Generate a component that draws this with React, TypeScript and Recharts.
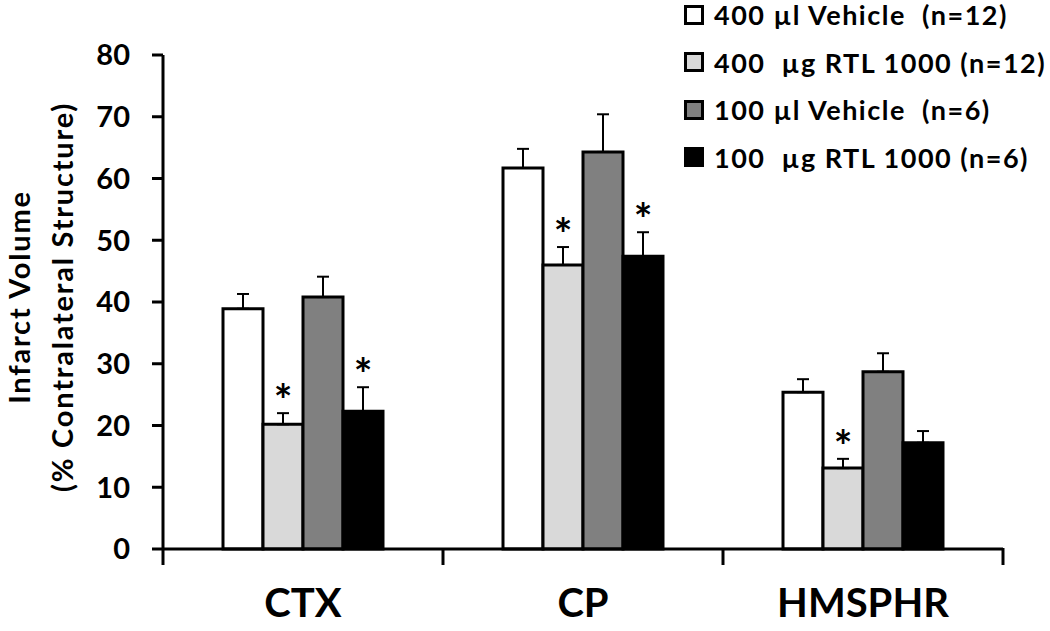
import React from 'react';
import {
  BarChart,
  Bar,
  XAxis,
  YAxis,
  ErrorBar,
  LabelList,
  Legend,
} from 'recharts';

const categories = ['CTX', 'CP', 'HMSPHR'];
const vehicle400 = [38.9, 61.7, 25.4];
const vehicle400Err = [2.4, 3.1, 2.1];
const rtl400 = [20.2, 46.0, 13.1];
const rtl400Err = [1.8, 2.9, 1.5];
const vehicle100 = [40.8, 64.3, 28.7];
const vehicle100Err = [3.3, 6.1, 3.0];
const rtl100 = [22.3, 47.4, 17.2];
const rtl100Err = [3.9, 3.9, 1.9];
// which bars carry a significance star
const rtl400Sig = [true, true, true];
const rtl100Sig = [true, true, false];
const yTicks = [0, 10, 20, 30, 40, 50, 60, 70, 80];

const seriesNames = [
  '400 µl Vehicle  (n=12)',
  '400  µg RTL 1000 (n=12)',
  '100 µl Vehicle  (n=6)',
  '100  µg RTL 1000 (n=6)',
];
const seriesColors = ['#ffffff', '#d9d9d9', '#808080', '#000000'];

const FONT = 'Lato, "Open Sans", sans-serif';

const data = categories.map((name, i) => ({
  name,
  v400: vehicle400[i],
  v400e: [0, vehicle400Err[i]],
  r400: rtl400[i],
  r400e: [0, rtl400Err[i]],
  r400s: rtl400Sig[i] ? '*' : '',
  v100: vehicle100[i],
  v100e: [0, vehicle100Err[i]],
  r100: rtl100[i],
  r100e: [0, rtl100Err[i]],
  r100s: rtl100Sig[i] ? '*' : '',
}));

// x-axis labels with Excel-style ticks on the category borders
function CategoryTick(props: any) {
  const { x, y, payload, index, visibleTicksCount } = props;
  const half = payload.offset || 0;
  const top = y - 9;
  return (
    <g>
      <line x1={x - half} y1={top} x2={x - half} y2={top + 17} stroke="#000" strokeWidth={3} />
      {index === visibleTicksCount - 1 && (
        <line x1={x + half} y1={top} x2={x + half} y2={top + 17} stroke="#000" strokeWidth={3} />
      )}
      <text
        x={x}
        y={y + 60}
        textAnchor="middle"
        fontFamily={FONT}
        fontWeight={700}
        fontSize={40}
        fill="#000"
      >
        {payload.value}
      </text>
    </g>
  );
}

function YTitle(props: any) {
  const vb = props.viewBox || {};
  const cy = (vb.y || 0) + (vb.height || 0) / 2 - 5;
  return (
    <g fontFamily={FONT} fontWeight={700} fontSize={29} fill="#000" letterSpacing={1.8}>
      <text x={30} y={cy} textAnchor="middle" transform={`rotate(-90 30 ${cy})`}>
        Infarct Volume
      </text>
      <text x={73} y={cy} textAnchor="middle" transform={`rotate(-90 73 ${cy})`}>
        (% Contralateral Structure)
      </text>
    </g>
  );
}

// star sits just above the error bar of the bar it marks
function makeStar(values: number[], errs: number[]) {
  return function Star(props: any) {
    const { x, y, width, height, value, index } = props;
    if (!value) return null;
    const perUnit = height / values[index];
    const top = y - errs[index] * perUnit;
    return (
      <text
        x={x + width / 2}
        y={top + 3}
        textAnchor="middle"
        fontFamily={FONT}
        fontWeight={700}
        fontSize={44}
        fill="#000"
      >
        {value}
      </text>
    );
  };
}

function LegendBox() {
  return (
    <div style={{ fontFamily: FONT, fontWeight: 700, fontSize: 27, letterSpacing: 1.5, color: '#000', lineHeight: 1 }}>
      {seriesNames.map((n, i) => (
        <div key={n} style={{ display: 'flex', alignItems: 'center', height: 47.5 }}>
          <div
            style={{
              width: 14,
              height: 14,
              flexShrink: 0,
              border: '3px solid #000',
              background: seriesColors[i],
              marginRight: 10,
            }}
          />
          <span style={{ whiteSpace: 'pre', lineHeight: 1 }}>{n}</span>
        </div>
      ))}
    </div>
  );
}

export default function App() {
  const barProps = { stroke: '#000', strokeWidth: 3, isAnimationActive: false };
  const errProps = { stroke: '#000', strokeWidth: 2, width: 6, direction: 'y' as const };
  return (
    <div style={{ position: 'absolute', left: 0, top: 0, width: 1050, height: 631, background: '#fff' }}>
      <BarChart
        width={1050}
        height={631}
        data={data}
        margin={{ top: 55, right: 47, bottom: 0, left: 0 }}
        barCategoryGap={60}
        barGap={0}
      >
        <XAxis
          dataKey="name"
          axisLine={{ stroke: '#000', strokeWidth: 3 }}
          tickLine={false}
          tick={<CategoryTick />}
          height={82}
          interval={0}
        />
        <YAxis
          width={163}
          domain={[0, 80]}
          ticks={yTicks}
          interval={0}
          axisLine={{ stroke: '#000', strokeWidth: 3 }}
          tickLine={{ stroke: '#000', strokeWidth: 3 }}
          tickSize={11}
          tick={{ fill: '#000', fontFamily: FONT, fontWeight: 700, fontSize: 29 }}
          tickMargin={22}
          label={<YTitle />}
        />
        <Legend
          layout="horizontal"
          verticalAlign="middle"
          align="center"
          wrapperStyle={{ top: -9, left: 684, width: 366 }}
          content={<LegendBox />}
        />
        <Bar dataKey="v400" name={seriesNames[0]} fill={seriesColors[0]} {...barProps}>
          <ErrorBar dataKey="v400e" {...errProps} />
        </Bar>
        <Bar dataKey="r400" name={seriesNames[1]} fill={seriesColors[1]} {...barProps}>
          <ErrorBar dataKey="r400e" {...errProps} />
          <LabelList dataKey="r400s" content={makeStar(rtl400, rtl400Err)} />
        </Bar>
        <Bar dataKey="v100" name={seriesNames[2]} fill={seriesColors[2]} {...barProps}>
          <ErrorBar dataKey="v100e" {...errProps} />
        </Bar>
        <Bar dataKey="r100" name={seriesNames[3]} fill={seriesColors[3]} {...barProps}>
          <ErrorBar dataKey="r100e" {...errProps} />
          <LabelList dataKey="r100s" content={makeStar(rtl100, rtl100Err)} />
        </Bar>
      </BarChart>
    </div>
  );
}
